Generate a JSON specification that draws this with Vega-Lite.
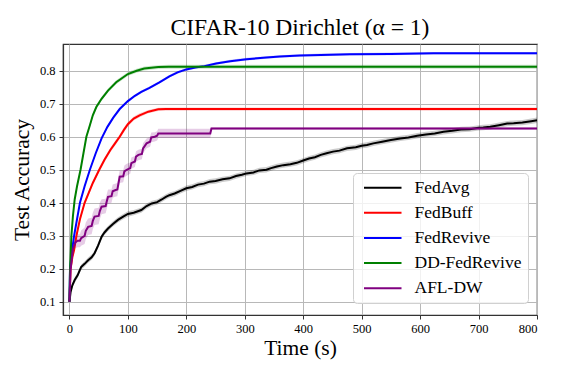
{
  "$schema": "https://vega.github.io/schema/vega-lite/v6.json",
  "width": 474,
  "height": 271,
  "autosize": {"type": "none"},
  "padding": {"left": 63, "top": 44, "right": 24, "bottom": 59},
  "background": "white",
  "title": {"text": "CIFAR-10 Dirichlet (α = 1)", "font": "Liberation Serif", "fontSize": 23.5, "fontWeight": "normal", "color": "black", "anchor": "middle", "offset": 5},
  "config": {
    "view": {"stroke": "#333333", "strokeWidth": 1.2},
    "axis": {
      "labelFont": "Liberation Serif", "labelFontSize": 12.5, "labelColor": "black", "labelOverlap": false,
      "titleFont": "Liberation Serif", "titleFontSize": 21.5, "titleFontWeight": "normal", "titleColor": "black",
      "grid": true, "gridColor": "#b8b8b8", "gridWidth": 1,
      "tickColor": "#333333", "tickSize": 4, "domainColor": "#333333", "domainWidth": 1.2
    }
  },
  "data": {"values": [
    {"m":"FedAvg","t":0,"y":0.100,"lo":0.095,"hi":0.105},
    {"m":"FedAvg","t":2,"y":0.130,"lo":0.122,"hi":0.138},
    {"m":"FedAvg","t":5,"y":0.150,"lo":0.142,"hi":0.158},
    {"m":"FedAvg","t":9,"y":0.166,"lo":0.158,"hi":0.174},
    {"m":"FedAvg","t":14,"y":0.180,"lo":0.172,"hi":0.188},
    {"m":"FedAvg","t":20,"y":0.205,"lo":0.197,"hi":0.213},
    {"m":"FedAvg","t":26,"y":0.215,"lo":0.207,"hi":0.223},
    {"m":"FedAvg","t":32,"y":0.226,"lo":0.218,"hi":0.234},
    {"m":"FedAvg","t":38,"y":0.235,"lo":0.227,"hi":0.243},
    {"m":"FedAvg","t":43,"y":0.247,"lo":0.239,"hi":0.255},
    {"m":"FedAvg","t":49,"y":0.270,"lo":0.262,"hi":0.278},
    {"m":"FedAvg","t":55,"y":0.297,"lo":0.289,"hi":0.305},
    {"m":"FedAvg","t":60,"y":0.310,"lo":0.302,"hi":0.318},
    {"m":"FedAvg","t":66,"y":0.322,"lo":0.314,"hi":0.330},
    {"m":"FedAvg","t":74,"y":0.335,"lo":0.327,"hi":0.343},
    {"m":"FedAvg","t":83,"y":0.348,"lo":0.340,"hi":0.356},
    {"m":"FedAvg","t":92,"y":0.358,"lo":0.350,"hi":0.366},
    {"m":"FedAvg","t":100,"y":0.366,"lo":0.358,"hi":0.374},
    {"m":"FedAvg","t":110,"y":0.370,"lo":0.362,"hi":0.378},
    {"m":"FedAvg","t":123,"y":0.378,"lo":0.370,"hi":0.386},
    {"m":"FedAvg","t":132,"y":0.390,"lo":0.382,"hi":0.398},
    {"m":"FedAvg","t":141,"y":0.398,"lo":0.390,"hi":0.406},
    {"m":"FedAvg","t":150,"y":0.402,"lo":0.394,"hi":0.410},
    {"m":"FedAvg","t":158,"y":0.410,"lo":0.402,"hi":0.418},
    {"m":"FedAvg","t":165,"y":0.418,"lo":0.410,"hi":0.426},
    {"m":"FedAvg","t":171,"y":0.423,"lo":0.415,"hi":0.431},
    {"m":"FedAvg","t":180,"y":0.428,"lo":0.420,"hi":0.436},
    {"m":"FedAvg","t":190,"y":0.436,"lo":0.428,"hi":0.444},
    {"m":"FedAvg","t":200,"y":0.444,"lo":0.436,"hi":0.452},
    {"m":"FedAvg","t":210,"y":0.448,"lo":0.440,"hi":0.456},
    {"m":"FedAvg","t":220,"y":0.455,"lo":0.447,"hi":0.463},
    {"m":"FedAvg","t":230,"y":0.458,"lo":0.450,"hi":0.466},
    {"m":"FedAvg","t":240,"y":0.464,"lo":0.456,"hi":0.472},
    {"m":"FedAvg","t":250,"y":0.466,"lo":0.458,"hi":0.474},
    {"m":"FedAvg","t":262,"y":0.471,"lo":0.463,"hi":0.479},
    {"m":"FedAvg","t":274,"y":0.474,"lo":0.466,"hi":0.482},
    {"m":"FedAvg","t":285,"y":0.481,"lo":0.473,"hi":0.489},
    {"m":"FedAvg","t":295,"y":0.485,"lo":0.477,"hi":0.493},
    {"m":"FedAvg","t":303,"y":0.489,"lo":0.481,"hi":0.497},
    {"m":"FedAvg","t":315,"y":0.492,"lo":0.484,"hi":0.500},
    {"m":"FedAvg","t":325,"y":0.498,"lo":0.490,"hi":0.506},
    {"m":"FedAvg","t":337,"y":0.500,"lo":0.492,"hi":0.508},
    {"m":"FedAvg","t":345,"y":0.505,"lo":0.497,"hi":0.513},
    {"m":"FedAvg","t":355,"y":0.510,"lo":0.502,"hi":0.518},
    {"m":"FedAvg","t":366,"y":0.514,"lo":0.506,"hi":0.522},
    {"m":"FedAvg","t":378,"y":0.517,"lo":0.509,"hi":0.525},
    {"m":"FedAvg","t":389,"y":0.521,"lo":0.513,"hi":0.529},
    {"m":"FedAvg","t":400,"y":0.528,"lo":0.520,"hi":0.536},
    {"m":"FedAvg","t":410,"y":0.534,"lo":0.526,"hi":0.542},
    {"m":"FedAvg","t":420,"y":0.538,"lo":0.530,"hi":0.546},
    {"m":"FedAvg","t":430,"y":0.545,"lo":0.537,"hi":0.553},
    {"m":"FedAvg","t":440,"y":0.550,"lo":0.542,"hi":0.558},
    {"m":"FedAvg","t":451,"y":0.555,"lo":0.547,"hi":0.563},
    {"m":"FedAvg","t":462,"y":0.558,"lo":0.550,"hi":0.566},
    {"m":"FedAvg","t":475,"y":0.565,"lo":0.557,"hi":0.573},
    {"m":"FedAvg","t":490,"y":0.568,"lo":0.560,"hi":0.576},
    {"m":"FedAvg","t":500,"y":0.573,"lo":0.565,"hi":0.581},
    {"m":"FedAvg","t":509,"y":0.575,"lo":0.567,"hi":0.583},
    {"m":"FedAvg","t":520,"y":0.580,"lo":0.572,"hi":0.588},
    {"m":"FedAvg","t":535,"y":0.585,"lo":0.577,"hi":0.593},
    {"m":"FedAvg","t":550,"y":0.590,"lo":0.582,"hi":0.598},
    {"m":"FedAvg","t":566,"y":0.595,"lo":0.587,"hi":0.603},
    {"m":"FedAvg","t":580,"y":0.598,"lo":0.590,"hi":0.606},
    {"m":"FedAvg","t":595,"y":0.603,"lo":0.595,"hi":0.611},
    {"m":"FedAvg","t":610,"y":0.607,"lo":0.599,"hi":0.615},
    {"m":"FedAvg","t":625,"y":0.610,"lo":0.602,"hi":0.618},
    {"m":"FedAvg","t":640,"y":0.615,"lo":0.607,"hi":0.623},
    {"m":"FedAvg","t":655,"y":0.618,"lo":0.610,"hi":0.626},
    {"m":"FedAvg","t":670,"y":0.622,"lo":0.614,"hi":0.630},
    {"m":"FedAvg","t":685,"y":0.623,"lo":0.615,"hi":0.631},
    {"m":"FedAvg","t":700,"y":0.627,"lo":0.619,"hi":0.635},
    {"m":"FedAvg","t":708,"y":0.628,"lo":0.620,"hi":0.636},
    {"m":"FedAvg","t":720,"y":0.630,"lo":0.622,"hi":0.638},
    {"m":"FedAvg","t":735,"y":0.635,"lo":0.627,"hi":0.643},
    {"m":"FedAvg","t":749,"y":0.640,"lo":0.632,"hi":0.648},
    {"m":"FedAvg","t":760,"y":0.641,"lo":0.633,"hi":0.649},
    {"m":"FedAvg","t":775,"y":0.643,"lo":0.635,"hi":0.651},
    {"m":"FedAvg","t":790,"y":0.647,"lo":0.639,"hi":0.655},
    {"m":"FedAvg","t":800,"y":0.650,"lo":0.642,"hi":0.658},

    {"m":"FedBuff","t":0,"y":0.100,"lo":0.095,"hi":0.105},
    {"m":"FedBuff","t":2,"y":0.200,"lo":0.195,"hi":0.205},
    {"m":"FedBuff","t":5,"y":0.235,"lo":0.228,"hi":0.242},
    {"m":"FedBuff","t":8,"y":0.257,"lo":0.250,"hi":0.264},
    {"m":"FedBuff","t":12,"y":0.300,"lo":0.293,"hi":0.307},
    {"m":"FedBuff","t":18,"y":0.350,"lo":0.343,"hi":0.357},
    {"m":"FedBuff","t":26,"y":0.400,"lo":0.393,"hi":0.407},
    {"m":"FedBuff","t":33,"y":0.430,"lo":0.423,"hi":0.437},
    {"m":"FedBuff","t":40,"y":0.460,"lo":0.453,"hi":0.467},
    {"m":"FedBuff","t":51,"y":0.500,"lo":0.493,"hi":0.507},
    {"m":"FedBuff","t":60,"y":0.530,"lo":0.523,"hi":0.537},
    {"m":"FedBuff","t":70,"y":0.560,"lo":0.553,"hi":0.567},
    {"m":"FedBuff","t":78,"y":0.580,"lo":0.573,"hi":0.587},
    {"m":"FedBuff","t":86,"y":0.600,"lo":0.593,"hi":0.607},
    {"m":"FedBuff","t":93,"y":0.620,"lo":0.613,"hi":0.627},
    {"m":"FedBuff","t":100,"y":0.638,"lo":0.631,"hi":0.645},
    {"m":"FedBuff","t":110,"y":0.655,"lo":0.649,"hi":0.661},
    {"m":"FedBuff","t":120,"y":0.665,"lo":0.659,"hi":0.671},
    {"m":"FedBuff","t":135,"y":0.676,"lo":0.671,"hi":0.681},
    {"m":"FedBuff","t":152,"y":0.683,"lo":0.678,"hi":0.688},
    {"m":"FedBuff","t":165,"y":0.684,"lo":0.679,"hi":0.689},
    {"m":"FedBuff","t":800,"y":0.684,"lo":0.679,"hi":0.689},

    {"m":"FedRevive","t":0,"y":0.100,"lo":0.097,"hi":0.103},
    {"m":"FedRevive","t":1,"y":0.200,"lo":0.196,"hi":0.204},
    {"m":"FedRevive","t":4,"y":0.250,"lo":0.246,"hi":0.254},
    {"m":"FedRevive","t":8,"y":0.300,"lo":0.296,"hi":0.304},
    {"m":"FedRevive","t":13,"y":0.350,"lo":0.346,"hi":0.354},
    {"m":"FedRevive","t":18,"y":0.400,"lo":0.396,"hi":0.404},
    {"m":"FedRevive","t":26,"y":0.450,"lo":0.446,"hi":0.454},
    {"m":"FedRevive","t":35,"y":0.500,"lo":0.496,"hi":0.504},
    {"m":"FedRevive","t":45,"y":0.550,"lo":0.546,"hi":0.554},
    {"m":"FedRevive","t":55,"y":0.595,"lo":0.591,"hi":0.599},
    {"m":"FedRevive","t":65,"y":0.630,"lo":0.626,"hi":0.634},
    {"m":"FedRevive","t":75,"y":0.658,"lo":0.654,"hi":0.662},
    {"m":"FedRevive","t":86,"y":0.684,"lo":0.680,"hi":0.688},
    {"m":"FedRevive","t":100,"y":0.708,"lo":0.704,"hi":0.712},
    {"m":"FedRevive","t":112,"y":0.724,"lo":0.720,"hi":0.728},
    {"m":"FedRevive","t":123,"y":0.736,"lo":0.732,"hi":0.740},
    {"m":"FedRevive","t":137,"y":0.748,"lo":0.744,"hi":0.752},
    {"m":"FedRevive","t":154,"y":0.765,"lo":0.761,"hi":0.769},
    {"m":"FedRevive","t":171,"y":0.783,"lo":0.779,"hi":0.787},
    {"m":"FedRevive","t":185,"y":0.795,"lo":0.791,"hi":0.799},
    {"m":"FedRevive","t":200,"y":0.804,"lo":0.800,"hi":0.808},
    {"m":"FedRevive","t":215,"y":0.810,"lo":0.806,"hi":0.814},
    {"m":"FedRevive","t":231,"y":0.814,"lo":0.810,"hi":0.818},
    {"m":"FedRevive","t":251,"y":0.822,"lo":0.818,"hi":0.826},
    {"m":"FedRevive","t":275,"y":0.829,"lo":0.825,"hi":0.833},
    {"m":"FedRevive","t":303,"y":0.835,"lo":0.831,"hi":0.839},
    {"m":"FedRevive","t":337,"y":0.840,"lo":0.836,"hi":0.844},
    {"m":"FedRevive","t":360,"y":0.843,"lo":0.839,"hi":0.847},
    {"m":"FedRevive","t":394,"y":0.846,"lo":0.842,"hi":0.850},
    {"m":"FedRevive","t":430,"y":0.848,"lo":0.844,"hi":0.852},
    {"m":"FedRevive","t":480,"y":0.850,"lo":0.846,"hi":0.854},
    {"m":"FedRevive","t":550,"y":0.851,"lo":0.847,"hi":0.855},
    {"m":"FedRevive","t":623,"y":0.853,"lo":0.849,"hi":0.857},
    {"m":"FedRevive","t":800,"y":0.853,"lo":0.849,"hi":0.857},

    {"m":"DD-FedRevive","t":0,"y":0.100,"lo":0.095,"hi":0.105},
    {"m":"DD-FedRevive","t":1,"y":0.196,"lo":0.190,"hi":0.202},
    {"m":"DD-FedRevive","t":3.4,"y":0.300,"lo":0.294,"hi":0.306},
    {"m":"DD-FedRevive","t":6,"y":0.360,"lo":0.354,"hi":0.366},
    {"m":"DD-FedRevive","t":9,"y":0.410,"lo":0.404,"hi":0.416},
    {"m":"DD-FedRevive","t":13,"y":0.450,"lo":0.444,"hi":0.456},
    {"m":"DD-FedRevive","t":19,"y":0.500,"lo":0.494,"hi":0.506},
    {"m":"DD-FedRevive","t":24,"y":0.550,"lo":0.544,"hi":0.556},
    {"m":"DD-FedRevive","t":29,"y":0.600,"lo":0.594,"hi":0.606},
    {"m":"DD-FedRevive","t":35,"y":0.635,"lo":0.629,"hi":0.641},
    {"m":"DD-FedRevive","t":40,"y":0.665,"lo":0.659,"hi":0.671},
    {"m":"DD-FedRevive","t":46,"y":0.690,"lo":0.684,"hi":0.696},
    {"m":"DD-FedRevive","t":55,"y":0.715,"lo":0.709,"hi":0.721},
    {"m":"DD-FedRevive","t":66,"y":0.740,"lo":0.734,"hi":0.746},
    {"m":"DD-FedRevive","t":80,"y":0.765,"lo":0.759,"hi":0.771},
    {"m":"DD-FedRevive","t":100,"y":0.790,"lo":0.784,"hi":0.796},
    {"m":"DD-FedRevive","t":115,"y":0.800,"lo":0.794,"hi":0.806},
    {"m":"DD-FedRevive","t":128,"y":0.807,"lo":0.801,"hi":0.813},
    {"m":"DD-FedRevive","t":140,"y":0.809,"lo":0.803,"hi":0.815},
    {"m":"DD-FedRevive","t":152,"y":0.811,"lo":0.805,"hi":0.817},
    {"m":"DD-FedRevive","t":170,"y":0.812,"lo":0.806,"hi":0.818},
    {"m":"DD-FedRevive","t":800,"y":0.812,"lo":0.806,"hi":0.818},

    {"m":"AFL-DW","t":0,"y":0.100,"lo":0.095,"hi":0.105},
    {"m":"AFL-DW","t":2,"y":0.200,"lo":0.190,"hi":0.210},
    {"m":"AFL-DW","t":6,"y":0.260,"lo":0.245,"hi":0.275},
    {"m":"AFL-DW","t":10,"y":0.280,"lo":0.262,"hi":0.298},
    {"m":"AFL-DW","t":14,"y":0.285,"lo":0.265,"hi":0.305},
    {"m":"AFL-DW","t":18,"y":0.285,"lo":0.265,"hi":0.305},
    {"m":"AFL-DW","t":20,"y":0.293,"lo":0.270,"hi":0.316},
    {"m":"AFL-DW","t":26,"y":0.300,"lo":0.275,"hi":0.325},
    {"m":"AFL-DW","t":28,"y":0.315,"lo":0.290,"hi":0.340},
    {"m":"AFL-DW","t":32,"y":0.327,"lo":0.302,"hi":0.352},
    {"m":"AFL-DW","t":38,"y":0.330,"lo":0.305,"hi":0.355},
    {"m":"AFL-DW","t":40,"y":0.345,"lo":0.320,"hi":0.370},
    {"m":"AFL-DW","t":43,"y":0.358,"lo":0.333,"hi":0.383},
    {"m":"AFL-DW","t":50,"y":0.360,"lo":0.335,"hi":0.385},
    {"m":"AFL-DW","t":52,"y":0.375,"lo":0.350,"hi":0.400},
    {"m":"AFL-DW","t":55,"y":0.388,"lo":0.365,"hi":0.411},
    {"m":"AFL-DW","t":62,"y":0.390,"lo":0.368,"hi":0.412},
    {"m":"AFL-DW","t":64,"y":0.405,"lo":0.383,"hi":0.427},
    {"m":"AFL-DW","t":66,"y":0.418,"lo":0.396,"hi":0.440},
    {"m":"AFL-DW","t":72,"y":0.420,"lo":0.400,"hi":0.440},
    {"m":"AFL-DW","t":74,"y":0.435,"lo":0.415,"hi":0.455},
    {"m":"AFL-DW","t":78,"y":0.438,"lo":0.418,"hi":0.458},
    {"m":"AFL-DW","t":82,"y":0.440,"lo":0.420,"hi":0.460},
    {"m":"AFL-DW","t":84,"y":0.460,"lo":0.440,"hi":0.480},
    {"m":"AFL-DW","t":86,"y":0.479,"lo":0.460,"hi":0.498},
    {"m":"AFL-DW","t":92,"y":0.480,"lo":0.462,"hi":0.498},
    {"m":"AFL-DW","t":94,"y":0.495,"lo":0.477,"hi":0.513},
    {"m":"AFL-DW","t":98,"y":0.500,"lo":0.482,"hi":0.518},
    {"m":"AFL-DW","t":104,"y":0.505,"lo":0.488,"hi":0.522},
    {"m":"AFL-DW","t":106,"y":0.520,"lo":0.503,"hi":0.537},
    {"m":"AFL-DW","t":112,"y":0.525,"lo":0.508,"hi":0.542},
    {"m":"AFL-DW","t":114,"y":0.540,"lo":0.524,"hi":0.556},
    {"m":"AFL-DW","t":118,"y":0.545,"lo":0.529,"hi":0.561},
    {"m":"AFL-DW","t":124,"y":0.548,"lo":0.532,"hi":0.564},
    {"m":"AFL-DW","t":126,"y":0.565,"lo":0.550,"hi":0.580},
    {"m":"AFL-DW","t":132,"y":0.580,"lo":0.565,"hi":0.595},
    {"m":"AFL-DW","t":138,"y":0.585,"lo":0.570,"hi":0.600},
    {"m":"AFL-DW","t":140,"y":0.598,"lo":0.583,"hi":0.613},
    {"m":"AFL-DW","t":146,"y":0.600,"lo":0.586,"hi":0.614},
    {"m":"AFL-DW","t":150,"y":0.603,"lo":0.589,"hi":0.617},
    {"m":"AFL-DW","t":152,"y":0.610,"lo":0.596,"hi":0.624},
    {"m":"AFL-DW","t":241,"y":0.610,"lo":0.596,"hi":0.624},
    {"m":"AFL-DW","t":243,"y":0.625,"lo":0.621,"hi":0.629},
    {"m":"AFL-DW","t":800,"y":0.625,"lo":0.621,"hi":0.629}
  ]},
  "encoding": {
    "x": {"field": "t", "type": "quantitative", "title": "Time (s)",
      "scale": {"domain": [-11, 800], "nice": false, "zero": false},
      "axis": {"values": [0,100,200,300,400,500,600,700,800], "tickCount": 12, "labelPadding": 3, "titlePadding": 3}},
    "color": {"field": "m", "type": "nominal",
      "scale": {"domain": ["FedAvg","FedBuff","FedRevive","DD-FedRevive","AFL-DW"], "range": ["#000000","#ff0000","#0000ff","#008000","#800080"]},
      "legend": {"title": null, "orient": "none", "legendX": 290, "legendY": 129,
        "symbolType": "M-2.5,0H2.5", "symbolSize": 225, "symbolStrokeWidth": 2, "symbolOffset": 15, "symbolOpacity": 1, "symbolFillColor": "transparent",
        "labelFont": "Liberation Serif", "labelFontSize": 17.5, "labelColor": "black", "labelOffset": 23,
        "rowPadding": 6.1, "padding": 6, "fillColor": "rgba(255,255,255,0.8)", "strokeColor": "#d0d0d0", "cornerRadius": 4}}
  },
  "layer": [
    {
      "mark": {"type": "area", "opacity": 0.2},
      "encoding": {
        "y": {"field": "lo", "type": "quantitative", "title": "Test Accuracy",
          "scale": {"domain": [0.06, 0.881], "nice": false, "zero": false},
          "axis": {"values": [0.1,0.2,0.3,0.4,0.5,0.6,0.7,0.8], "tickCount": 10, "format": ".1f", "labelPadding": 4, "titlePadding": 6}},
        "y2": {"field": "hi"}
      }
    },
    {
      "mark": {"type": "line", "strokeWidth": 2},
      "encoding": {
        "y": {"field": "y", "type": "quantitative"}
      }
    }
  ]
}
